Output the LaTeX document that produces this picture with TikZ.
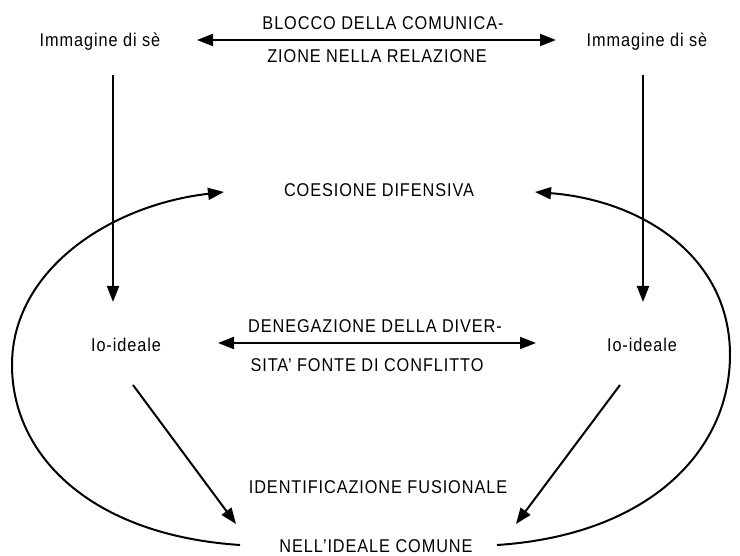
\documentclass[tikz,border=0pt]{standalone}
\usepackage{fontspec}
\setmainfont{Liberation Sans}[FakeStretch=0.88, LetterSpace=5]
\usetikzlibrary{arrows.meta}
\begin{document}
\begin{tikzpicture}[x=1pt,y=-1pt,
  lbl/.style={inner sep=0pt, font=\fontsize{18.5}{20}\selectfont},
  conn/.style={line width=2pt, -{Triangle[length=16pt,width=12pt]}},
  dconn/.style={line width=2pt, {Triangle[length=16pt,width=12pt]}-{Triangle[length=16pt,width=12pt]}}]
\fill[white] (0,0) rectangle (740,556);
\useasboundingbox (0,0) rectangle (740,556);
% text nodes
\node[lbl] (imgL) at (100,42) {Immagine di sè};
\node[lbl] (imgR) at (647,42) {Immagine di sè};
\node[lbl] (blo1) at (383,23) {BLOCCO DELLA COMUNICA-};
\node[lbl] (blo2) at (377,56) {ZIONE NELLA RELAZIONE};
\node[lbl] (coes) at (379,190) {COESIONE DIFENSIVA};
\node[lbl] (ioL) at (126,345) {Io-ideale};
\node[lbl] (ioR) at (642,345) {Io-ideale};
\node[lbl] (den1) at (375,326) {DENEGAZIONE DELLA DIVER-};
\node[lbl] (den2) at (367,365) {SITA' FONTE DI CONFLITTO};
\node[lbl] (iden) at (378,487) {IDENTIFICAZIONE FUSIONALE};
\node[lbl] (nell) at (376,546) {NELL'IDEALE COMUNE};
% connector end points
\coordinate (tL) at (197,40);
\coordinate (tR) at (556,40);
\coordinate (vL1) at (113,75);
\coordinate (vL2) at (113,302);
\coordinate (vR1) at (643,75);
\coordinate (vR2) at (643,302);
\coordinate (mL) at (218,343);
\coordinate (mR) at (536,343);
\coordinate (dL1) at (133,385);
\coordinate (dL2) at (236,524);
\coordinate (dR1) at (620,385);
\coordinate (dR2) at (516,524);
\coordinate (cL1) at (240,545);
\coordinate (cL2) at (224,192);
\coordinate (cR1) at (497,545);
\coordinate (cR2) at (535,192);
% connectors
\draw[dconn] (tL) -- (tR);
\draw[conn] (vL1) -- (vL2);
\draw[conn] (vR1) -- (vR2);
\draw[dconn] (mL) -- (mR);
\draw[conn] (dL1) -- (dL2);
\draw[conn] (dR1) -- (dR2);
\draw[conn] (cL1) .. controls (90,535) and (12,455) .. (12,365) .. controls (12,270) and (110,205) .. (cL2);
\draw[conn] (cR1) .. controls (650,535) and (730,450) .. (730,355) .. controls (730,255) and (640,200) .. (cR2);
\end{tikzpicture}
\end{document}
